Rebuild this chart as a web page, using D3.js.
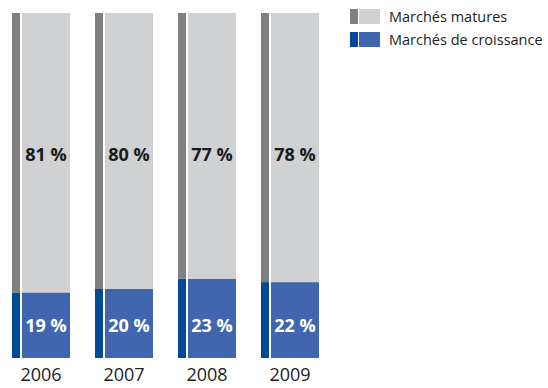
<!DOCTYPE html>
<html><head><meta charset="utf-8">
<script src="https://cdn.jsdelivr.net/npm/d3@7"></script>
<style>body{margin:0;background:#fff}svg{display:block}text{font-family:"Open Sans","Noto Sans",sans-serif}</style>
</head><body><svg id="c" width="548" height="388"></svg>
<script>
const years = ["2006","2007","2008","2009"];
const mature = [81,80,77,78];
const growth = [19,20,23,22];
const seriesNames = ["Marchés matures","Marchés de croissance"];
const darkColors = ["#808080","#004a98"];
const lightColors = ["#d0d1d3","#3f66ae"];

const svg = d3.select("#c");
const x = d3.scaleBand().domain(years).range([12,319]).paddingInner(25/83).paddingOuter(0);
const y = d3.scaleLinear().domain([0,100]).range([358,13]);
const stripeW = 8, gap = 2;
// label rows sit at fixed heights across all bars
const labelPos = [d3.min(growth)/2, 59];

years.forEach((yr,i)=>{
  const x0 = x(yr), bw = x.bandwidth();
  const parts = [{v0:0,v1:growth[i],k:1},{v0:growth[i],v1:100,k:0}];
  parts.forEach(p=>{
    svg.append("rect").attr("x",x0).attr("width",stripeW)
      .attr("y",y(p.v1)).attr("height",y(p.v0)-y(p.v1)).attr("fill",darkColors[p.k]);
    svg.append("rect").attr("x",x0+stripeW+gap).attr("width",bw-stripeW-gap)
      .attr("y",y(p.v1)).attr("height",y(p.v0)-y(p.v1)).attr("fill",lightColors[p.k]);
    const val = p.k===1?growth[i]:mature[i];
    svg.append("text").attr("x",x0+stripeW+gap+(bw-stripeW-gap)/2)
      .attr("y",y(labelPos[p.k===1?0:1])).attr("dy","0.36em").attr("text-anchor","middle")
      .attr("font-size",18).attr("font-weight","bold")
      .attr("fill",p.k===1?"#fff":"#1a1a1a").text(val+" %");
  });
});

const xAxis = svg.append("g").attr("transform","translate(0,358)")
  .call(d3.axisBottom(x).tickSize(0).tickPadding(10));
xAxis.select(".domain").remove();
xAxis.selectAll("text").attr("font-size",18).attr("fill","#222")
  .attr("font-family","'Open Sans','Noto Sans',sans-serif")
  .attr("dy","0.71em");

const leg = svg.append("g");
seriesNames.forEach((n,i)=>{
  const ly = 9 + i*23;
  leg.append("rect").attr("x",350).attr("y",ly).attr("width",8).attr("height",15).attr("fill",darkColors[i]);
  leg.append("rect").attr("x",359).attr("y",ly).attr("width",21).attr("height",15).attr("fill",lightColors[i]);
  leg.append("text").attr("x",389).attr("y",ly+7.5).attr("dy","0.36em").attr("font-size",14.5)
    .attr("fill","#222").text(n);
});
</script></body></html>
